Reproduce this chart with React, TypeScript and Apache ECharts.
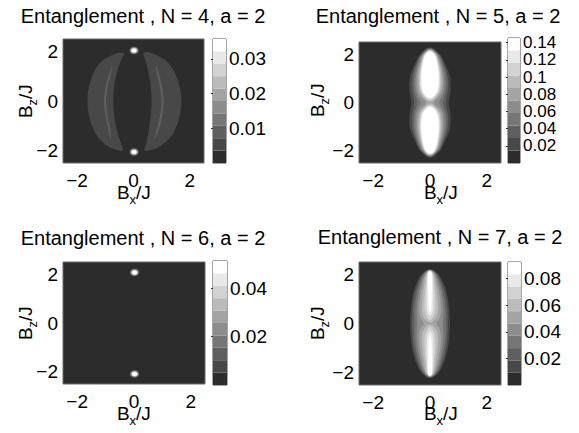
import React, { useEffect, useRef } from 'react';
import * as echarts from 'echarts';

type Pt = [number, number];
interface Contour { level: number; pts: Pt[] }
interface Profile { level: number; quarter: Pt[] }
type Spot = [number, number, number, number, number]; // x, y, rx, ry, level

// ---------- data ----------
const TITLES = [
  'Entanglement , N = 4, a = 2',
  'Entanglement , N = 5, a = 2',
  'Entanglement , N = 6, a = 2',
  'Entanglement , N = 7, a = 2',
];
const AXIS_RANGE: Pt = [-2.5, 2.5];
const AXIS_TICKS = [-2, 0, 2];
const CBAR_MAX = [0.0357, 0.1455, 0.0513, 0.0925];
const CBAR_TICKS = [
  [0.01, 0.02, 0.03],
  [0.02, 0.04, 0.06, 0.08, 0.1, 0.12, 0.14],
  [0.02, 0.04],
  [0.02, 0.04, 0.06, 0.08],
];
const LEVEL_COLORS = ['#2c2c2c', '#484848', '#5f5f5f', '#767676', '#8d8d8d', '#a4a4a4', '#bbbbbb', '#d2d2d2', '#e9e9e9', '#ffffff'];

// N = 4 : two crescents, thin inner stripes and two bright spots
const N4_CONTOURS: Contour[] = [
  { level: 1, pts: [[-0.34, 1.93], [-0.6, 1.92], [-0.92, 1.76], [-1.2, 1.52], [-1.45, 1.05], [-1.6, 0.45], [-1.63, 0], [-1.6, -0.45], [-1.49, -0.95], [-1.27, -1.45], [-0.96, -1.78], [-0.66, -1.95], [-0.37, -2.0], [-0.43, -1.75], [-0.56, -1.3], [-0.67, -0.7], [-0.72, 0], [-0.67, 0.7], [-0.55, 1.3], [-0.42, 1.7]] },
  { level: 1, pts: [[0.36, 1.95], [0.62, 1.94], [0.95, 1.77], [1.24, 1.52], [1.5, 1.05], [1.66, 0.45], [1.7, 0], [1.66, -0.45], [1.55, -0.95], [1.32, -1.45], [1.0, -1.78], [0.7, -1.95], [0.4, -2.0], [0.44, -1.75], [0.53, -1.3], [0.6, -0.7], [0.64, 0], [0.6, 0.7], [0.5, 1.3], [0.4, 1.72]] },
  { level: 2, pts: [[-0.77, 1.38], [-0.86, 1.1], [-0.98, 0.6], [-1.05, 0], [-0.99, -0.6], [-0.88, -1.2], [-0.8, -1.58], [-0.82, -1.2], [-0.92, -0.6], [-0.97, 0], [-0.91, 0.6], [-0.8, 1.1]] },
  { level: 2, pts: [[0.8, 1.42], [0.9, 1.1], [1.01, 0.6], [1.07, 0], [1.02, -0.6], [0.88, -1.2], [0.74, -1.52], [0.81, -1.2], [0.94, -0.6], [0.99, 0], [0.93, 0.6], [0.83, 1.1]] },
];
const N4_SPOTS: Spot[] = [
  [0.02, 2.04, 0.16, 0.15, 3], [0.02, 2.04, 0.12, 0.11, 6], [0.02, 2.04, 0.09, 0.08, 9],
  [0.02, -2.06, 0.16, 0.15, 3], [0.02, -2.06, 0.12, 0.11, 6], [0.02, -2.06, 0.09, 0.08, 9],
];

// N = 5 : peanut shape, upper-right quarter of each filled level [x, y]
const N5_PROFILES: Profile[] = [
  { level: 1, quarter: [[0, 2.28], [0.34, 2.0], [0.5, 1.67], [0.7, 1.1], [0.73, 0.57], [0.7, 0.3], [0.66, 0]] },
  { level: 2, quarter: [[0, 2.25], [0.31, 2.0], [0.46, 1.67], [0.62, 1.1], [0.64, 0.57], [0.6, 0.3], [0.56, 0]] },
  { level: 3, quarter: [[0, 2.23], [0.28, 2.0], [0.42, 1.67], [0.56, 1.1], [0.57, 0.57], [0.52, 0.3], [0.45, 0]] },
  { level: 4, quarter: [[0, 2.21], [0.25, 2.0], [0.38, 1.67], [0.5, 1.1], [0.5, 0.57], [0.44, 0.3], [0.32, 0]] },
  { level: 5, quarter: [[0, 2.19], [0.22, 2.0], [0.34, 1.67], [0.45, 1.1], [0.44, 0.57], [0.36, 0.3], [0.15, 0]] },
  { level: 6, quarter: [[0, 2.17], [0.2, 2.0], [0.31, 1.67], [0.4, 1.1], [0.38, 0.57], [0.29, 0.3], [0, 0.04]] },
  { level: 7, quarter: [[0, 2.15], [0.18, 2.0], [0.28, 1.67], [0.36, 1.1], [0.34, 0.57], [0.24, 0.3], [0, 0.09]] },
  { level: 8, quarter: [[0, 2.13], [0.16, 2.0], [0.26, 1.67], [0.33, 1.1], [0.31, 0.57], [0.2, 0.3], [0, 0.14]] },
  { level: 9, quarter: [[0, 2.1], [0.14, 2.0], [0.24, 1.67], [0.3, 1.1], [0.27, 0.57], [0.16, 0.3], [0, 0.19]] },
];

// N = 6 : only two bright spots
const N6_SPOTS: Spot[] = [
  [0.02, 2.07, 0.16, 0.15, 3], [0.02, 2.07, 0.12, 0.11, 6], [0.02, 2.07, 0.09, 0.08, 9],
  [0.02, -2.09, 0.16, 0.15, 3], [0.02, -2.09, 0.12, 0.11, 6], [0.02, -2.09, 0.09, 0.08, 9],
];

// N = 7 : spindle shape, upper-right quarter of each filled level [x, y]
const N7_PROFILES: Profile[] = [
  { level: 1, quarter: [[0, 2.22], [0.3, 2.0], [0.52, 1.5], [0.63, 1.0], [0.68, 0.5], [0.7, 0]] },
  { level: 2, quarter: [[0, 2.2], [0.26, 2.0], [0.46, 1.5], [0.57, 1.0], [0.62, 0.5], [0.63, 0]] },
  { level: 3, quarter: [[0, 2.18], [0.22, 2.0], [0.4, 1.5], [0.5, 1.0], [0.55, 0.5], [0.55, 0]] },
  { level: 4, quarter: [[0, 2.17], [0.19, 2.0], [0.34, 1.5], [0.43, 1.0], [0.47, 0.5], [0.45, 0]] },
  { level: 5, quarter: [[0, 2.16], [0.16, 2.0], [0.28, 1.5], [0.36, 1.0], [0.38, 0.5], [0.33, 0.2], [0.22, 0]] },
  { level: 6, quarter: [[0, 2.15], [0.13, 2.0], [0.21, 1.5], [0.27, 1.0], [0.28, 0.5], [0.2, 0.2], [0, 0.04]] },
  { level: 7, quarter: [[0, 2.14], [0.1, 2.0], [0.15, 1.5], [0.19, 1.0], [0.18, 0.5], [0.1, 0.25], [0, 0.12]] },
  { level: 8, quarter: [[0, 2.13], [0.08, 2.0], [0.11, 1.5], [0.12, 1.0], [0.1, 0.5], [0.04, 0.35], [0, 0.28]] },
  { level: 9, quarter: [[0, 2.12], [0.07, 2.04], [0.07, 1.8], [0.06, 1.0], [0.04, 0.6], [0, 0.45]] },
];

// ---------- layout (pixels) ----------
const FONT = '"Liberation Sans", Arial, Helvetica, sans-serif';
const PANELS = [
  { plot: [63, 39, 141, 124], cbar: [213, 39, 13, 124], title: [143, 16], xname: [117, 192], yname: [25, 118], cbFont: 19 },
  { plot: [359, 42, 142, 121], cbar: [508, 38, 12, 125], title: [438, 16], xname: [424, 192], yname: [317, 117], cbFont: 17 },
  { plot: [63, 262, 142, 122], cbar: [213, 261, 14, 124], title: [143, 238], xname: [117, 413], yname: [25, 340], cbFont: 19 },
  { plot: [359, 262, 142, 123], cbar: [508, 262, 13, 123], title: [440, 237], xname: [424, 413], yname: [317, 340], cbFont: 19 },
];

function profilesToContours(profiles: Profile[]): Contour[] {
  const out: Contour[] = [];
  for (const p of profiles) {
    const q = p.quarter;
    const last = q[q.length - 1];
    if (last[0] > 0) {
      const right: Pt[] = [...q, ...q.slice(0, -1).reverse().map(([x, y]) => [x, -y] as Pt)];
      const left: Pt[] = right.slice(1, -1).reverse().map(([x, y]) => [-x, y] as Pt);
      out.push({ level: p.level, pts: [...right, ...left] });
    } else {
      const left: Pt[] = q.slice(1, -1).reverse().map(([x, y]) => [-x, y] as Pt);
      const top: Pt[] = [...q, ...left];
      out.push({ level: p.level, pts: top });
      out.push({ level: p.level, pts: top.map(([x, y]) => [x, -y] as Pt) });
    }
  }
  return out;
}

const PANEL_CONTOURS: Contour[][] = [
  N4_CONTOURS,
  profilesToContours(N5_PROFILES),
  [],
  profilesToContours(N7_PROFILES),
];
const PANEL_SPOTS: Spot[][] = [N4_SPOTS, [], N6_SPOTS, []];

const fmtTick = (v: number) => (v < 0 ? '\u2212' + Math.abs(v) : String(v));
const fmtBar = (v: number) => String(Number(v.toFixed(3)));

function textEl(x: number, y: number, text: string, size: number, align = 'left') {
  return {
    type: 'text', x, y, silent: true,
    style: {
      text, font: `${size}px ${FONT}`, fill: '#000',
      align, verticalAlign: 'middle', textAlign: align, textVerticalAlign: 'middle',
    },
  };
}

function nameGroup(x: number, y: number, sub: string, vertical: boolean) {
  return {
    type: 'group', x, y, rotation: vertical ? Math.PI / 2 : 0, silent: true,
    children: [
      textEl(0, 0, 'B', 19),
      textEl(12.5, 7, sub, 13),
      textEl(19, 0, '/J', 19),
    ],
  };
}

function buildOption() {
  const grid: any[] = [];
  const xAxis: any[] = [];
  const yAxis: any[] = [];
  const series: any[] = [];
  const graphic: any[] = [];
  const labelStyle = { color: '#000', fontSize: 19, fontFamily: FONT, hideOverlap: false };

  PANELS.forEach((pn, i) => {
    // ----- main plot -----
    const g = grid.length;
    grid.push({
      left: pn.plot[0], top: pn.plot[1], width: pn.plot[2], height: pn.plot[3],
      show: true, backgroundColor: LEVEL_COLORS[0], borderColor: '#6a6a6a', borderWidth: 1,
    });
    const xi = xAxis.length;
    xAxis.push({
      type: 'value', gridIndex: g, min: AXIS_RANGE[0], max: AXIS_RANGE[1],
      axisLine: { show: false }, axisTick: { show: false }, splitLine: { show: false },
      axisLabel: { ...labelStyle, customValues: AXIS_TICKS, formatter: fmtTick, margin: 8 },
    });
    const yi = yAxis.length;
    yAxis.push({
      type: 'value', gridIndex: g, min: AXIS_RANGE[0], max: AXIS_RANGE[1],
      axisLine: { show: false }, axisTick: { show: false }, splitLine: { show: false },
      axisLabel: { ...labelStyle, customValues: AXIS_TICKS, formatter: fmtTick, margin: 5 },
    });
    const contours = PANEL_CONTOURS[i];
    if (contours.length) {
      series.push({
        type: 'custom', xAxisIndex: xi, yAxisIndex: yi, silent: true, z: 2,
        data: contours.map((c, k) => ({ value: [0, 0, k, c.level] })),
        renderItem: (params: any, api: any) => {
          const c = contours[params.dataIndex];
          return {
            type: 'polygon',
            shape: { points: c.pts.map((p) => api.coord(p)), smooth: 0.35 },
            style: { fill: LEVEL_COLORS[c.level] },
          };
        },
      });
    }
    const spots = PANEL_SPOTS[i];
    if (spots.length) {
      series.push({
        type: 'custom', xAxisIndex: xi, yAxisIndex: yi, silent: true, z: 3,
        data: spots.map((s) => ({ value: [s[0], s[1], s[4]] })),
        renderItem: (params: any, api: any) => {
          const s = spots[params.dataIndex];
          const c = api.coord([s[0], s[1]]);
          const sz = api.size([s[2], s[3]]);
          return {
            type: 'ellipse',
            shape: { cx: c[0], cy: c[1], rx: sz[0], ry: sz[1] },
            style: { fill: LEVEL_COLORS[s[4]] },
          };
        },
      });
    }

    // ----- colorbar -----
    const cg = grid.length;
    grid.push({
      left: pn.cbar[0], top: pn.cbar[1], width: pn.cbar[2], height: pn.cbar[3],
      show: true, borderColor: '#4a4a4a', borderWidth: 1, backgroundColor: 'transparent',
    });
    const cxi = xAxis.length;
    xAxis.push({ type: 'value', gridIndex: cg, min: 0, max: 1, show: false });
    const cyi = yAxis.length;
    const vmax = CBAR_MAX[i];
    const ticks = CBAR_TICKS[i];
    yAxis.push({
      type: 'value', gridIndex: cg, min: 0, max: vmax, position: 'right',
      axisLine: { show: false }, splitLine: { show: false },
      axisTick: { show: true, inside: true, length: 2, customValues: ticks, lineStyle: { color: '#333', width: 1 } },
      axisLabel: { show: false },
    });
    yAxis.push({
      type: 'value', gridIndex: cg, min: 0, max: vmax, position: 'left',
      axisLine: { show: false }, splitLine: { show: false },
      axisTick: { show: true, inside: true, length: 2, customValues: ticks, lineStyle: { color: '#333', width: 1 } },
      axisLabel: { show: false },
    });
    const bands = LEVEL_COLORS.map((_, k) => [k, (k * vmax) / LEVEL_COLORS.length, ((k + 1) * vmax) / LEVEL_COLORS.length]);
    series.push({
      type: 'custom', xAxisIndex: cxi, yAxisIndex: cyi, silent: true, z: 1,
      data: bands.map((b) => ({ value: [0.5, b[1], b[0], b[2]] })),
      renderItem: (params: any, api: any) => {
        const b = bands[params.dataIndex];
        const p0 = api.coord([0, b[1]]);
        const p1 = api.coord([1, b[2]]);
        return {
          type: 'rect',
          shape: { x: p0[0], y: p1[1], width: p1[0] - p0[0], height: p0[1] - p1[1] },
          style: { fill: LEVEL_COLORS[b[0]] },
        };
      },
    });
    // colorbar tick labels, placed through the colorbar's own value scale
    series.push({
      type: 'custom', xAxisIndex: cxi, yAxisIndex: cyi, silent: true, z: 4, clip: false,
      data: ticks.map((t) => ({ value: [1, t] })),
      renderItem: (params: any, api: any) => {
        const t = ticks[params.dataIndex];
        const p = api.coord([1, t]);
        return {
          type: 'text', x: p[0] + 3, y: p[1],
          style: {
            text: fmtBar(t), font: `${pn.cbFont}px ${FONT}`, fill: '#000',
            align: 'left', verticalAlign: 'middle', textAlign: 'left', textVerticalAlign: 'middle',
          },
        };
      },
    });

    // ----- texts -----
    graphic.push(textEl(pn.title[0], pn.title[1], TITLES[i], 20, 'center'));
    graphic.push(nameGroup(pn.xname[0], pn.xname[1], 'x', false));
    graphic.push(nameGroup(pn.yname[0], pn.yname[1], 'z', true));
  });

  return { animation: false, backgroundColor: '#ffffff', grid, xAxis, yAxis, series, graphic };
}

export default function App() {
  const ref = useRef<HTMLDivElement>(null);
  useEffect(() => {
    if (!ref.current) return;
    const chart = echarts.init(ref.current, undefined, { renderer: 'svg' });
    chart.setOption(buildOption() as any);
    return () => chart.dispose();
  }, []);
  return (
    <div
      ref={ref}
      style={{ position: 'fixed', left: 0, top: 0, width: 579, height: 433, background: '#fff' }}
    />
  );
}
